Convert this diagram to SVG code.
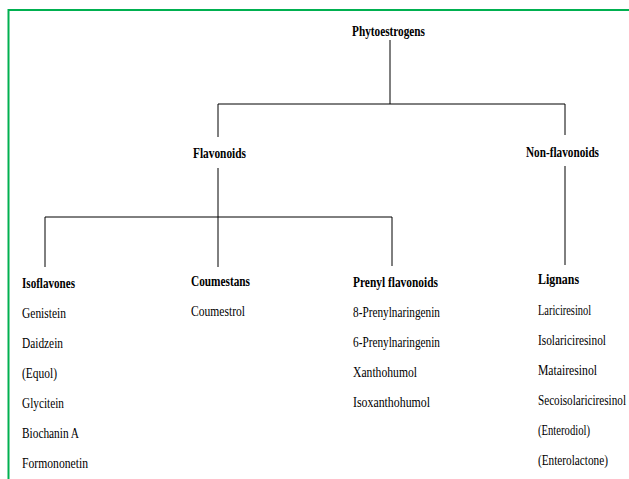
<svg xmlns="http://www.w3.org/2000/svg" width="629" height="479" viewBox="0 0 629 479">
<style>
text{font-family:"Liberation Serif","Times New Roman",serif;font-size:15px;fill:#000}
.h{font-weight:bold}
.c{fill:none;stroke:#000;stroke-width:1}
</style>
<rect width="629" height="479" fill="#fff"/>
<path d="M8.5 479 V10 H629" fill="none" stroke="#00b050" stroke-width="2"/>
<g id="connectors" class="c">
<path class="c" d="M390 40 V104"/>
<path class="c" d="M218 104 H565"/>
<path class="c" d="M218 104 V137"/>
<path class="c" d="M565 104 V135"/>
<path class="c" d="M218 168 V267"/>
<path class="c" d="M45 217 H392"/>
<path class="c" d="M45 217 V267"/>
<path class="c" d="M392 217 V266"/>
<path class="c" d="M565 166 V265"/>
</g>
<g id="phytoestrogens"><text class="h" x="352" y="36" textLength="73" lengthAdjust="spacingAndGlyphs">Phytoestrogens</text></g>
<g id="flavonoids"><text class="h" x="193" y="158" textLength="53" lengthAdjust="spacingAndGlyphs">Flavonoids</text></g>
<g id="nonflavonoids"><text class="h" x="526" y="157" textLength="73" lengthAdjust="spacingAndGlyphs">Non-flavonoids</text></g>
<g id="isoflavones">
<text class="h" x="22" y="288" textLength="53" lengthAdjust="spacingAndGlyphs">Isoflavones</text>
<text x="22" y="318" textLength="44" lengthAdjust="spacingAndGlyphs">Genistein</text>
<text x="22" y="348" textLength="41" lengthAdjust="spacingAndGlyphs">Daidzein</text>
<text x="22" y="378" textLength="35" lengthAdjust="spacingAndGlyphs">(Equol)</text>
<text x="22" y="408" textLength="42" lengthAdjust="spacingAndGlyphs">Glycitein</text>
<text x="22" y="438" textLength="57" lengthAdjust="spacingAndGlyphs">Biochanin A</text>
<text x="22" y="468" textLength="66" lengthAdjust="spacingAndGlyphs">Formononetin</text>
</g>
<g id="coumestans">
<text class="h" x="191" y="286" textLength="59" lengthAdjust="spacingAndGlyphs">Coumestans</text>
<text x="191" y="316" textLength="54" lengthAdjust="spacingAndGlyphs">Coumestrol</text>
</g>
<g id="prenylflavonoids">
<text class="h" x="353" y="287" textLength="85" lengthAdjust="spacingAndGlyphs">Prenyl flavonoids</text>
<text x="353" y="317" textLength="87" lengthAdjust="spacingAndGlyphs">8-Prenylnaringenin</text>
<text x="353" y="347" textLength="87" lengthAdjust="spacingAndGlyphs">6-Prenylnaringenin</text>
<text x="353" y="377" textLength="64" lengthAdjust="spacingAndGlyphs">Xanthohumol</text>
<text x="353" y="407" textLength="77" lengthAdjust="spacingAndGlyphs">Isoxanthohumol</text>
</g>
<g id="lignans" transform="translate(538 0) scale(0.78 1)">
<text class="h" x="0" y="284" textLength="52.6" lengthAdjust="spacingAndGlyphs">Lignans</text>
<text x="0" y="315" textLength="68" lengthAdjust="spacingAndGlyphs">Lariciresinol</text>
<text x="0" y="345" textLength="87.2" lengthAdjust="spacingAndGlyphs">Isolariciresinol</text>
<text x="0" y="375" textLength="75.6" lengthAdjust="spacingAndGlyphs">Matairesinol</text>
<text x="0" y="405" textLength="112.8" lengthAdjust="spacingAndGlyphs">Secoisolariciresinol</text>
<text x="0" y="435" textLength="66.7" lengthAdjust="spacingAndGlyphs">(Enterodiol)</text>
<text x="0" y="465" textLength="89.7" lengthAdjust="spacingAndGlyphs">(Enterolactone)</text>
</g>
</svg>
